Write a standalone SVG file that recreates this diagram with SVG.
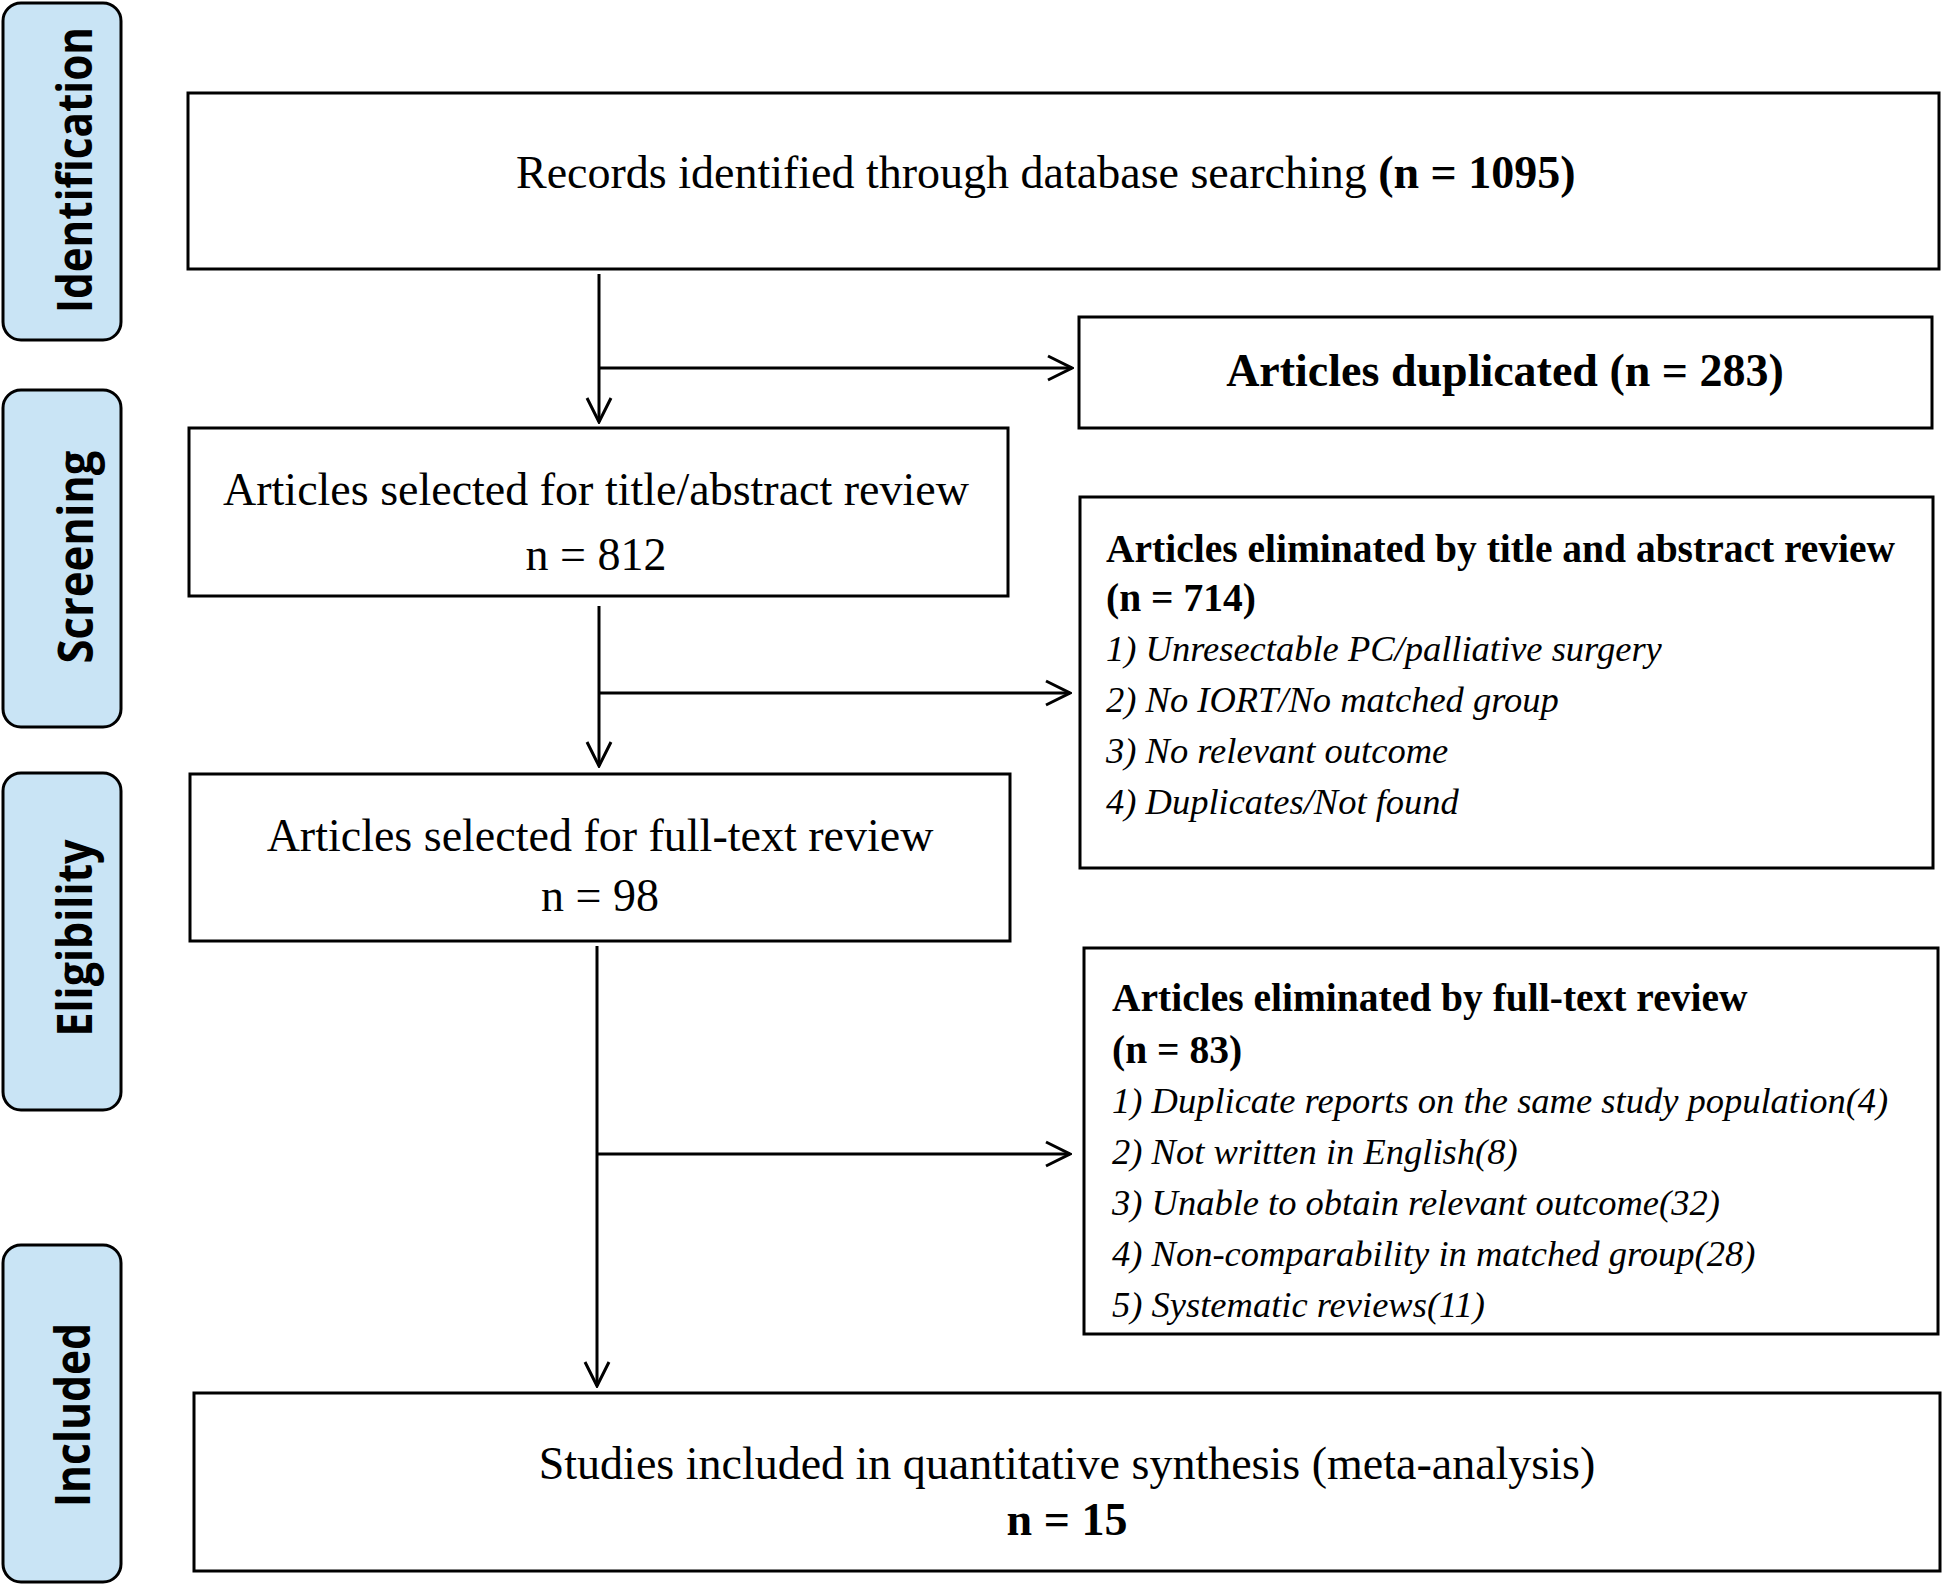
<svg xmlns="http://www.w3.org/2000/svg" width="1946" height="1586" viewBox="0 0 1946 1586">
<style>
.bg{fill:#ffffff}
.side{fill:#c9e4f5;stroke:#000;stroke-width:3}
.side-t{font-family:"Open Sans","Liberation Sans",sans-serif;font-weight:700;font-size:48px;fill:#000;text-anchor:middle}
.box{fill:#fff;stroke:#000;stroke-width:3}
.t{font-family:"Liberation Serif","Times New Roman",serif;font-size:46px;fill:#000}
.ts{font-family:"Liberation Serif","Times New Roman",serif;font-size:39.5px;fill:#000}
.ti{font-family:"Liberation Serif","Times New Roman",serif;font-size:36.5px;font-style:italic;fill:#000}
.b{font-weight:700}
.mid{text-anchor:middle}
.conn{fill:none;stroke:#000;stroke-width:3}
</style>
<defs>
<marker id="arr" viewBox="-28 -15 30 30" refX="0" refY="0" markerWidth="30" markerHeight="30" markerUnits="userSpaceOnUse" orient="auto">
<path d="M-24,-12 L0,0 L-24,12" fill="none" stroke="#000" stroke-width="3"/>
</marker>
</defs>
<rect class="bg" x="0" y="0" width="1946" height="1586"/>

<g id="stage-identification">
<rect class="side" x="3" y="3" width="118" height="337" rx="18"/>
<text class="side-t" transform="translate(92,170) rotate(-90)" textLength="286" lengthAdjust="spacingAndGlyphs">Identification</text>
</g>
<g id="stage-screening">
<rect class="side" x="3" y="390" width="118" height="337" rx="18"/>
<text class="side-t" transform="translate(93,557) rotate(-90)" textLength="213" lengthAdjust="spacingAndGlyphs">Screening</text>
</g>
<g id="stage-eligibility">
<rect class="side" x="3" y="773" width="118" height="337" rx="18"/>
<text class="side-t" transform="translate(92,938) rotate(-90)" textLength="197" lengthAdjust="spacingAndGlyphs">Eligibility</text>
</g>
<g id="stage-included">
<rect class="side" x="3" y="1245" width="118" height="337" rx="18"/>
<text class="side-t" transform="translate(90,1415) rotate(-90)" textLength="184" lengthAdjust="spacingAndGlyphs">Included</text>
</g>

<g id="records">
<rect class="box" x="188" y="93" width="1751" height="176"/>
<text class="t" x="516" y="188">Records identified through database searching <tspan class="b">(n = 1095)</tspan></text>
</g>
<g id="duplicated">
<rect class="box" x="1079" y="317" width="853" height="111"/>
<text class="t b mid" x="1505" y="386">Articles duplicated (n = 283)</text>
</g>
<g id="title-abstract">
<rect class="box" x="189" y="428" width="819" height="168"/>
<text class="t mid" x="596" y="505">Articles selected for title/abstract review</text>
<text class="t mid" x="596" y="570">n = 812</text>
</g>
<g id="eliminated-title">
<rect class="box" x="1080" y="497" width="853" height="371"/>
<text class="ts b" x="1106" y="562">Articles eliminated by title and abstract review</text>
<text class="ts b" x="1106" y="611">(n = 714)</text>
<text class="ti" x="1106" y="661">1) Unresectable PC/palliative surgery</text>
<text class="ti" x="1106" y="712">2) No IORT/No matched group</text>
<text class="ti" x="1106" y="763">3) No relevant outcome</text>
<text class="ti" x="1106" y="814">4) Duplicates/Not found</text>
</g>
<g id="full-text">
<rect class="box" x="190" y="774" width="820" height="167"/>
<text class="t mid" x="600" y="851">Articles selected for full-text review</text>
<text class="t mid" x="600" y="911">n = 98</text>
</g>
<g id="eliminated-full">
<rect class="box" x="1084" y="948" width="854" height="386"/>
<text class="ts b" x="1112" y="1011">Articles eliminated by full-text review</text>
<text class="ts b" x="1112" y="1063">(n = 83)</text>
<text class="ti" x="1112" y="1113">1) Duplicate reports on the same study population(4)</text>
<text class="ti" x="1112" y="1164">2) Not written in English(8)</text>
<text class="ti" x="1112" y="1215">3) Unable to obtain relevant outcome(32)</text>
<text class="ti" x="1112" y="1266">4) Non-comparability in matched group(28)</text>
<text class="ti" x="1112" y="1317">5) Systematic reviews(11)</text>
</g>
<g id="included">
<rect class="box" x="194" y="1393" width="1746" height="178"/>
<text class="t mid" x="1067" y="1479">Studies included in quantitative synthesis (meta-analysis)</text>
<text class="t b mid" x="1067" y="1535">n = 15</text>
</g>

<g id="connectors">
<line class="conn" x1="599" y1="274" x2="599" y2="422" marker-end="url(#arr)"/>
<line class="conn" x1="599" y1="368" x2="1072" y2="368" marker-end="url(#arr)"/>
<line class="conn" x1="599" y1="606" x2="599" y2="766" marker-end="url(#arr)"/>
<line class="conn" x1="599" y1="693" x2="1070" y2="693" marker-end="url(#arr)"/>
<line class="conn" x1="597" y1="946" x2="597" y2="1386" marker-end="url(#arr)"/>
<line class="conn" x1="597" y1="1154" x2="1070" y2="1154" marker-end="url(#arr)"/>
</g>
</svg>
